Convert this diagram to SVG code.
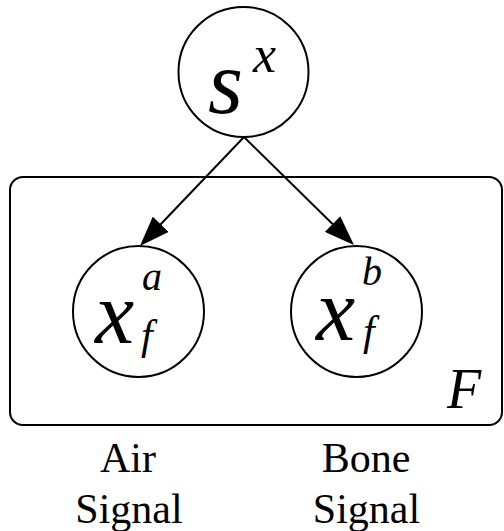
<svg xmlns="http://www.w3.org/2000/svg" width="504" height="531" viewBox="0 0 504 531">
<style>
.n{fill:#fff;stroke:#000;stroke-width:2}
.e{stroke:#000;stroke-width:2;fill:none}
</style>
<defs>
<marker id="ah" markerUnits="userSpaceOnUse" markerWidth="30" markerHeight="22" refX="10" refY="11" orient="auto">
<path d="M0,0 L30,11 L0,22 z" fill="#000"/>
</marker>
</defs>
<g id="plate">
<rect x="10" y="177" width="492" height="248" rx="13" ry="13" fill="none" stroke="#000" stroke-width="2"/>
<text font-family="Liberation Serif, serif" font-style="italic" x="447" y="408" font-size="56">F</text>
</g>
<g id="connectors">
<line class="e" x1="244" y1="137" x2="153.8" y2="231.5" marker-end="url(#ah)"/>
<line class="e" x1="244" y1="137" x2="339.7" y2="231" marker-end="url(#ah)"/>
</g>
<g id="node-s" font-family="Liberation Serif, serif" font-style="italic">
<circle class="n" cx="243.5" cy="72" r="65"/>
<text x="208" y="113" font-size="90">s</text>
<text x="253" y="72" font-size="52">x</text>
</g>
<g id="node-xa" font-family="Liberation Serif, serif" font-style="italic">
<circle class="n" cx="138.5" cy="311.5" r="65.5"/>
<text x="95" y="343" font-size="88">x</text>
<text x="142" y="290" font-size="40">a</text>
<text x="141" y="349" font-size="42">f</text>
</g>
<g id="node-xb" font-family="Liberation Serif, serif" font-style="italic">
<circle class="n" cx="356.5" cy="311.5" r="65.5"/>
<text x="316" y="340" font-size="88">x</text>
<text x="362" y="285" font-size="40">b</text>
<text x="363" y="345" font-size="42">f</text>
</g>
<g id="labels" font-family="Liberation Serif, serif" font-size="42" text-anchor="middle">
<text x="128" y="472">Air</text>
<text x="129" y="523">Signal</text>
<text x="366" y="472">Bone</text>
<text x="366.5" y="523">Signal</text>
</g>
</svg>
